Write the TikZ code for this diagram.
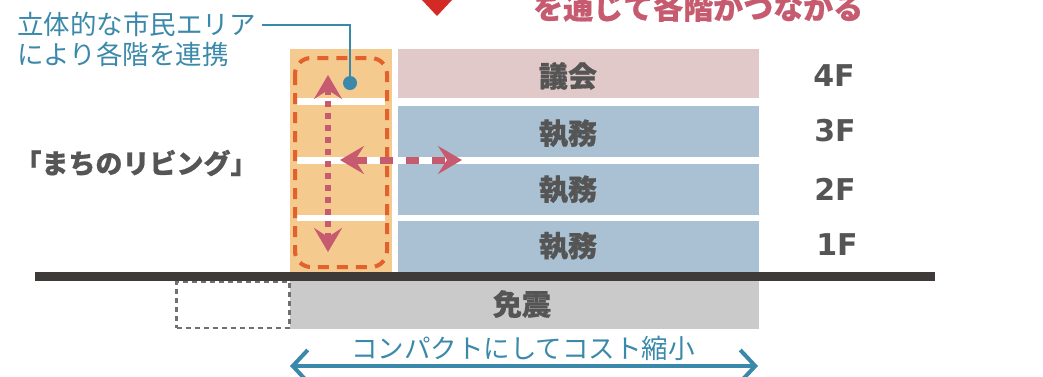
\documentclass[tikz,border=0pt]{standalone}
\usepackage{fontspec}
\newfontfamily\jp{Noto Sans CJK JP}
\newfontfamily\jpheavy{Noto Sans CJK JP}[BoldFeatures={FakeBold=0.6}]
\newfontfamily\lat{DejaVu Sans}
\usetikzlibrary{arrows.meta}
\definecolor{cBlueBox}{HTML}{A9C1D2}
\definecolor{cPinkBox}{HTML}{E2C9C9}
\definecolor{cCol}{HTML}{F4CA8E}
\definecolor{cOrange}{HTML}{E2612C}
\definecolor{cPink}{HTML}{C65B70}
\definecolor{cBlue}{HTML}{3B89AA}
\definecolor{cText}{HTML}{555555}
\definecolor{cGround}{HTML}{3E3A39}
\definecolor{cBase}{HTML}{C9CAC9}
\definecolor{cDash}{HTML}{707070}
\definecolor{cRed}{HTML}{D32A25}
\tikzset{
  floorbox/.style={inner sep=0, minimum width=361pt},
  ftext/.style={inner sep=0, font=\jpheavy\bfseries\fontsize{29}{29}\selectfont, text=cText},
  flabel/.style={inner sep=0, font=\lat\bfseries\fontsize{30}{30}\selectfont, text=cText},
  bluetext/.style={inner sep=0, font=\jp\fontsize{26.5}{26.5}\selectfont, text=cBlue},
  stripe/.style={fill=white, draw=none},
  pinkarrow/.style={draw=cPink, arrows={Stealth[length=24pt,width=28pt,inset=9pt]-Stealth[length=24pt,width=28pt,inset=9pt]}},
}
\begin{document}
\begin{tikzpicture}[x=1pt,y=-1pt]
\useasboundingbox (0,0) rectangle (1043,376);
\clip (0,0) rectangle (1043,376);
% heading
\fill[cRed] (422,0) -- (452,0) -- (437,16) -- cycle;
\node[anchor=base west, inner sep=0, font=\jpheavy\bfseries\fontsize{30}{30}\selectfont, text=cPink] (head) at (533,19) {を通じて各階がつながる};
% column
\node[fill=cCol, inner sep=0, minimum width=102pt, minimum height=223pt] (col) at (341,160.5) {};
\fill[stripe] (297,98) rectangle (385,105);
\fill[stripe] (297,157) rectangle (385,164);
\fill[stripe] (297,215) rectangle (385,221);
\draw[cOrange, line width=4pt, dash pattern=on 11pt off 8pt, rounded corners=16pt] (295,58) rectangle (387,267);
% floors
\node[floorbox, fill=cPinkBox, minimum height=49pt] (f4) at (578.5,73.5) {};
\node[floorbox, fill=cBlueBox, minimum height=51pt] (f3) at (578.5,131.5) {};
\node[floorbox, fill=cBlueBox, minimum height=51pt] (f2) at (578.5,189.5) {};
\node[floorbox, fill=cBlueBox, minimum height=51pt] (f1) at (578.5,246.5) {};
\node[ftext] (t4) at (568,76) {議会};
\node[ftext] (t3) at (568,133.5) {執務};
\node[ftext] (t2) at (568,189.5) {執務};
\node[ftext] (t1f) at (568,246) {執務};
\node[floorbox, fill=cBase, minimum width=469pt, minimum height=48pt] (base) at (524.5,305) {};
\node[ftext] (tb) at (522,304) {免震};
\node[draw=cDash, line width=2.5pt, dash pattern=on 5pt off 4pt, inner sep=0, minimum width=113pt, minimum height=46pt] (old) at (233,305) {};
% ground
\coordinate (g1) at (35,276.5);
\coordinate (g2) at (935,276.5);
\draw[cGround, line width=9pt] (g1) -- (g2);
% floor labels
\node[flabel] (l4) at (834,76) {4F};
\node[flabel] (l3) at (835,131) {3F};
\node[flabel] (l2) at (835,189) {2F};
\node[flabel] (l1) at (837,245) {1F};
% pink arrows
\coordinate (vt) at (328,75);
\coordinate (vb) at (328,252);
\draw[pinkarrow, line width=6pt, dash pattern=on 6pt off 6pt] (vt) -- (vb);
\coordinate (hl) at (340,160);
\coordinate (hr) at (462,160);
\draw[pinkarrow, line width=7pt, dash pattern=on 13pt off 13pt] (hl) -- (hr);
% callout
\node[bluetext, anchor=base west] (t1) at (17,34) {立体的な市民エリア};
\node[bluetext, anchor=base west] (t2) at (17,64) {により各階を連携};
\node[circle, fill=cBlue, inner sep=0, minimum size=14pt] (dot) at (350,83) {};
\coordinate (cs) at (262,25);
\draw[cBlue, line width=2.5pt] (cs) -| (dot.center);
% machi
\node[inner sep=0, font=\jpheavy\bfseries\fontsize{27}{27}\selectfont, text=cText] (machi) at (136,163) {「まちのリビング」};
% bottom
\node[bluetext] (compact) at (523,348) {コンパクトにしてコスト縮小};
\coordinate (al) at (290,366);
\coordinate (ar) at (758,366);
\draw[cBlue, line width=4pt, arrows={Straight Barb[length=15pt,width=32pt]-Straight Barb[length=15pt,width=32pt]}] (al) -- (ar);
\end{tikzpicture}
\end{document}
